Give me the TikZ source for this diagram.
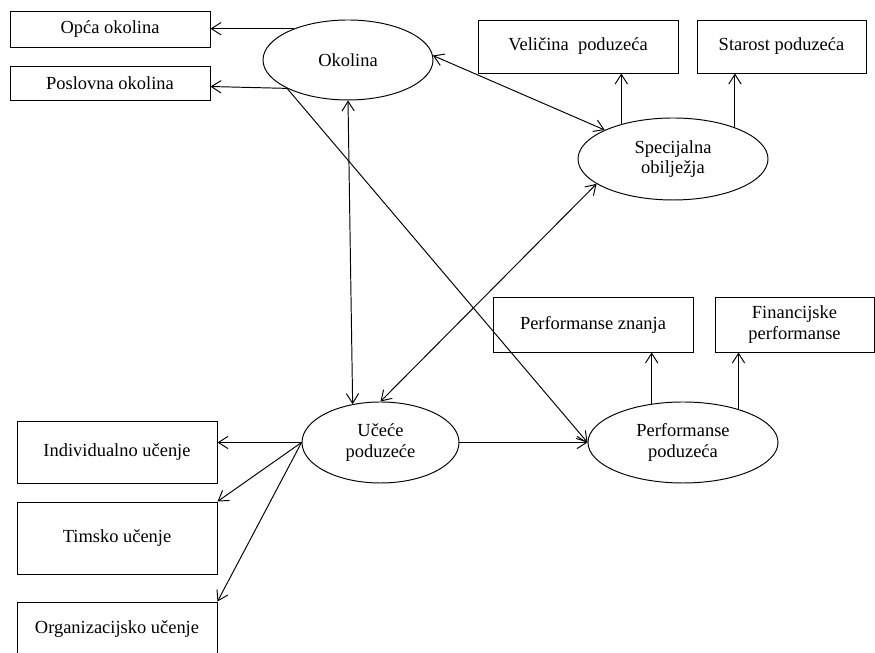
\documentclass[tikz,border=0pt]{standalone}
\usepackage{fontspec}
\setmainfont{Liberation Serif}
\usepackage{tikz}
\usetikzlibrary{shapes.geometric}
\usetikzlibrary{arrows.meta}

\begin{document}
\begin{tikzpicture}[line width=0.55pt,
  >={Straight Barb[length=5.5pt,width=7pt]},
  okvir/.style={draw,rectangle,inner sep=0pt,align=center,font=\fontsize{10.5}{11.8}\selectfont},
  elipsa/.style={draw,ellipse,inner sep=0pt,align=center,font=\fontsize{10.5}{11.8}\selectfont}]
  \useasboundingbox (0,0) rectangle (17.5,13.06);

  \node[okvir,minimum width=4cm,minimum height=0.72cm] (opca) at (2.2,12.48) {Opća okolina};
  \node[okvir,minimum width=4cm,minimum height=0.68cm] (poslovna) at (2.2,11.40) {Poslovna okolina};
  \node[elipsa,minimum width=3.4cm,minimum height=1.6cm] (okolina) at (6.96,11.86) {Okolina};

  \node[okvir,minimum width=4cm,minimum height=1.06cm] (velicina) at (11.56,12.13) {Veličina~~poduzeća};
  \node[okvir,minimum width=3.38cm,minimum height=1.06cm] (starost) at (15.63,12.13) {Starost poduzeća};
  \node[elipsa,minimum width=3.8cm,minimum height=1.64cm] (spec) at (13.46,9.88) {Specijalna\\obilježja};

  \node[okvir,minimum width=4cm,minimum height=1.1cm] (znanja) at (11.86,6.57) {Performanse znanja};
  \node[okvir,minimum width=3.18cm,minimum height=1.1cm] (fin) at (15.89,6.57) {Financijske\\performanse};
  \node[elipsa,minimum width=3.8cm,minimum height=1.62cm] (perf) at (13.66,4.21) {Performanse\\poduzeća};

  \node[elipsa,minimum width=3.14cm,minimum height=1.62cm] (ucece) at (7.61,4.21) {Učeće\\poduzeće};
  \node[okvir,minimum width=4cm,minimum height=1.24cm] (indiv) at (2.34,4.02) {Individualno učenje};
  \node[okvir,minimum width=4cm,minimum height=1.44cm] (timsko) at (2.34,2.30) {Timsko učenje};
  \node[okvir,minimum width=4cm,minimum height=1.1cm] (org) at (2.34,0.47) {Organizacijsko učenje};

  \draw[->] (okolina.150) -- (okolina.150 -| opca.east);
  \draw[->] (okolina.205) -- ([yshift=-2pt]poslovna.east);
  \draw[<->] (okolina.3) -- (spec.157);
  \draw[<->] (okolina.south) -- (ucece.126);
  \draw[->] (okolina.205) -- (perf.west);
  \draw[->] (spec.146) -- (spec.146 |- velicina.south);
  \draw[->] (spec.27) -- (spec.27 |- starost.south);
  \draw[<->] (spec.198) -- (ucece.north);
  \draw[->] (perf.129) -- (perf.129 |- znanja.south);
  \draw[->] (perf.31) -- (perf.31 |- fin.south);
  \draw[->] (ucece.east) -- (perf.west);
  \draw[->] (ucece.west) -- (ucece.west -| indiv.east);
  \draw[->] (ucece.west) -- (timsko.north east);
  \draw[->] (ucece.west) -- (org.north east);
\end{tikzpicture}
\end{document}
